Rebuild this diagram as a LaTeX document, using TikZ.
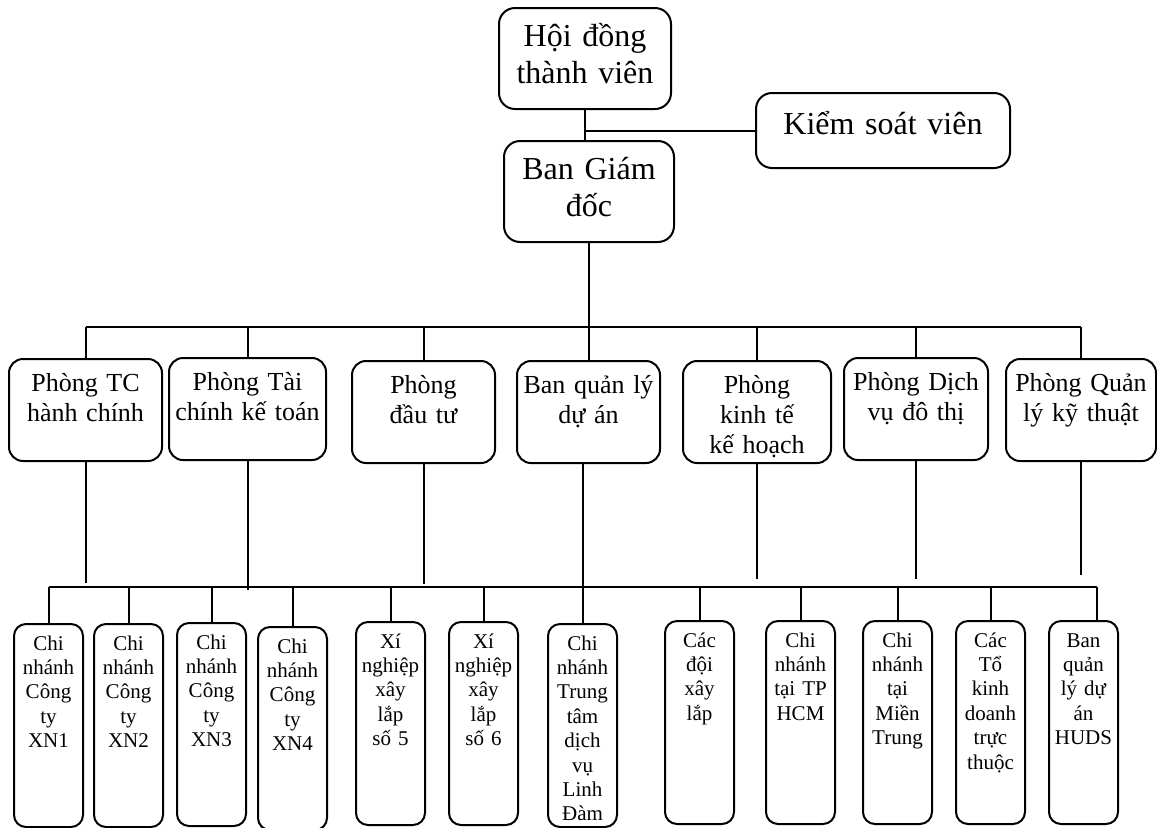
\documentclass[tikz,border=0pt]{standalone}
\usepackage{fontspec}
\setmainfont{Liberation Serif}
\usepackage{tikz}
\tikzset{
  headbox/.style={
    rounded corners=8pt,draw=black,fill=white,
    line width=1pt,anchor=north west,inner xsep=2pt,inner ysep=3pt,
    text height=16pt,text depth=28.5pt,
    text width=82pt,align=center,font=\fontsize{16}{18.5}\selectfont
  },
  deptbox/.style={
    rounded corners=7pt,draw=black,fill=white,
    line width=1pt,anchor=north west,inner xsep=2pt,inner ysep=3pt,
    text height=13pt,text depth=32pt,
    text width=72pt,align=center,font=\fontsize{13}{15}\selectfont
  },
  unitbox/.style={
    rounded corners=6pt,draw=black,fill=white,
    line width=1pt,anchor=north west,inner xsep=2pt,inner ysep=3pt,
    text height=10pt,text depth=85.5pt,
    text width=30.5pt,align=center,font=\fontsize{10.5}{12.2}\selectfont
  },
  link/.style={draw=black,line width=1pt}
}

\begin{document}
\begin{tikzpicture}[x=0.5pt,y=-0.5pt]
\useasboundingbox (0,0) rectangle (1157,827);
\node[headbox] (hdtv) at (498,7) {Hội đồng\\thành viên};
\node[headbox,text width=81pt] (bgd) at (503,140) {Ban Giám\\đốc};
\node[headbox,text width=123pt,text height=17.5pt,text depth=14pt] (ksv) at (755,92) {Kiểm soát viên};

\node[deptbox,text width=72.5pt] (p1) at (8,358) {Phòng TC\\hành chính};
\node[deptbox,text width=74.5pt] (p2) at (168,357) {Phòng Tài\\chính kế toán};
\node[deptbox,text width=67.5pt] (p3) at (351,360) {Phòng\\đầu tư};
\node[deptbox,text width=67.5pt] (p4) at (516,360) {Ban quản lý\\dự án};
\node[deptbox,text width=70pt] (p5) at (682,360) {Phòng\\kinh tế\\kế hoạch};
\node[deptbox,text width=68pt] (p6) at (843,357) {Phòng Dịch\\vụ đô thị};
\node[deptbox,text width=71pt] (p7) at (1005,358) {Phòng Quản\\lý kỹ thuật};

\node[unitbox] (b1) at (13,623) {Chi\\nhánh\\Công\\ty\\XN1};
\node[unitbox] (b2) at (93,623) {Chi\\nhánh\\Công\\ty\\XN2};
\node[unitbox] (b3) at (176,622) {Chi\\nhánh\\Công\\ty\\XN3};
\node[unitbox] (b4) at (257,626) {Chi\\nhánh\\Công\\ty\\XN4};
\node[unitbox] (b5) at (355,621) {Xí\\nghiệp\\xây\\lắp\\số 5};
\node[unitbox] (b6) at (448,621) {Xí\\nghiệp\\xây\\lắp\\số 6};
\node[unitbox] (b7) at (547,623) {Chi\\nhánh\\Trung\\tâm\\dịch\\vụ\\Linh\\Đàm};
\node[unitbox] (b8) at (664,620) {Các\\đội\\xây\\lắp};
\node[unitbox] (b9) at (765,620) {Chi\\nhánh\\tại TP\\HCM};
\node[unitbox] (b10) at (862,620) {Chi\\nhánh\\tại\\Miền\\Trung};
\node[unitbox] (b11) at (955,620) {Các\\Tổ\\kinh\\doanh\\trực\\thuộc};
\node[unitbox] (b12) at (1048,620) {Ban\\quản\\lý dự\\án\\HUDS};

\draw[link] (hdtv.south) -- (hdtv.south |- bgd.north);
\draw[link] (hdtv.south |- ksv.west) -- (ksv.west);
\draw[link] (bgd.south) -- (bgd.south |- p4.north);

\coordinate (bus) at (0,327);
\draw[link] (p1.north |- bus) -- (p7.north |- bus);
\foreach \n in {p1,p2,p3,p5,p6,p7}
  \draw[link] (\n.north |- bus) -- (\n.north);

\foreach \n/\e in {p1/583,p2/590,p3/584,p5/579,p6/579,p7/575}
  \draw[link] (\n.south) -- (\n.south |- 0,\e);
\draw[link] (p4.south -| b7.north) -- (b7.north);

\coordinate (sub) at (0,587);
\coordinate (b12in) at ([xshift=6.5pt]b12.north);
\draw[link] (b1.north |- sub) -- (b12in |- sub);
\foreach \i in {1,2,3,4,5,6,8,9,10,11}
  \draw[link] (b\i.north |- sub) -- (b\i.north);
\draw[link] (b12in |- sub) -- (b12in);
\end{tikzpicture}
\end{document}
